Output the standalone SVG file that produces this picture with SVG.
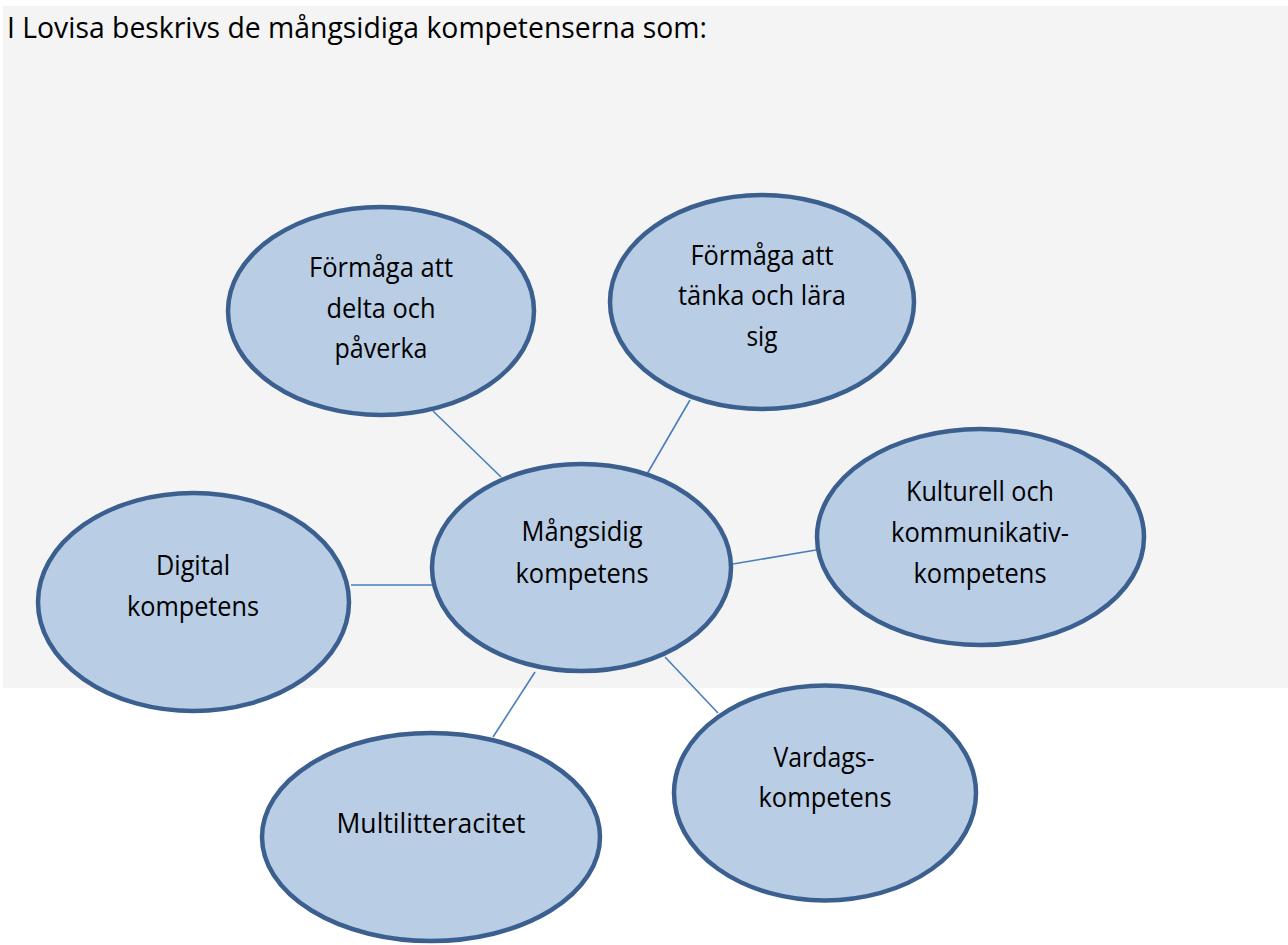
<svg xmlns="http://www.w3.org/2000/svg" width="1288" height="945" viewBox="0 0 1288 945">
<style>
.node{fill:#B9CDE5;stroke:#3B5F8E;stroke-width:4.5}
.lbl{font-family:"Open Sans","Liberation Sans",sans-serif;font-size:26.5px;fill:#000;text-anchor:middle}
.title{font-family:"Open Sans","Liberation Sans",sans-serif;font-size:30px;fill:#000}
.conn line{stroke:#4A7EBB;stroke-width:1.6}
</style>
<rect x="3" y="6" width="1285" height="682" fill="#F4F4F4"/>
<text class="title" x="7" y="38" textLength="700" lengthAdjust="spacingAndGlyphs">I Lovisa beskrivs de mångsidiga kompetenserna som:</text>
<g id="connectors" class="conn">
<line x1="433" y1="411" x2="501" y2="477"/>
<line x1="690" y1="400" x2="647" y2="474"/>
<line x1="351" y1="585" x2="432" y2="585"/>
<line x1="733" y1="564" x2="816" y2="550"/>
<line x1="665" y1="657" x2="718" y2="713"/>
<line x1="535" y1="672" x2="493" y2="737"/>
</g>
<g id="node-delta">
<ellipse class="node" cx="381" cy="311" rx="153" ry="104"/>
<text class="lbl" x="381" y="277" textLength="144" lengthAdjust="spacingAndGlyphs">Förmåga att</text>
<text class="lbl" x="381" y="318" textLength="109" lengthAdjust="spacingAndGlyphs">delta och</text>
<text class="lbl" x="381" y="358" textLength="93" lengthAdjust="spacingAndGlyphs">påverka</text>
</g>
<g id="node-tanka">
<ellipse class="node" cx="762" cy="302" rx="152" ry="107"/>
<text class="lbl" x="762" y="265" textLength="143" lengthAdjust="spacingAndGlyphs">Förmåga att</text>
<text class="lbl" x="762" y="305" textLength="168" lengthAdjust="spacingAndGlyphs">tänka och lära</text>
<text class="lbl" x="762" y="346" textLength="31" lengthAdjust="spacingAndGlyphs">sig</text>
</g>
<g id="node-center">
<ellipse class="node" cx="581.5" cy="567.5" rx="149.5" ry="103.5"/>
<text class="lbl" x="582" y="541" textLength="121" lengthAdjust="spacingAndGlyphs">Mångsidig</text>
<text class="lbl" x="582" y="583" textLength="133" lengthAdjust="spacingAndGlyphs">kompetens</text>
</g>
<g id="node-kulturell">
<ellipse class="node" cx="980.5" cy="537" rx="163.5" ry="108"/>
<text class="lbl" x="980" y="501" textLength="148" lengthAdjust="spacingAndGlyphs">Kulturell och</text>
<text class="lbl" x="980" y="542" textLength="178" lengthAdjust="spacingAndGlyphs">kommunikativ-</text>
<text class="lbl" x="980" y="583" textLength="133" lengthAdjust="spacingAndGlyphs">kompetens</text>
</g>
<g id="node-digital">
<ellipse class="node" cx="193.5" cy="602" rx="155.5" ry="109"/>
<text class="lbl" x="193" y="575" textLength="74" lengthAdjust="spacingAndGlyphs">Digital</text>
<text class="lbl" x="193" y="616" textLength="132" lengthAdjust="spacingAndGlyphs">kompetens</text>
</g>
<g id="node-multi">
<ellipse class="node" cx="431" cy="837" rx="169" ry="104"/>
<text class="lbl" x="431" y="833" textLength="189" lengthAdjust="spacingAndGlyphs">Multilitteracitet</text>
</g>
<g id="node-vardags">
<ellipse class="node" cx="825" cy="793" rx="151" ry="107.5"/>
<text class="lbl" x="824" y="767" textLength="101" lengthAdjust="spacingAndGlyphs">Vardags-</text>
<text class="lbl" x="825" y="807" textLength="133" lengthAdjust="spacingAndGlyphs">kompetens</text>
</g>
</svg>
